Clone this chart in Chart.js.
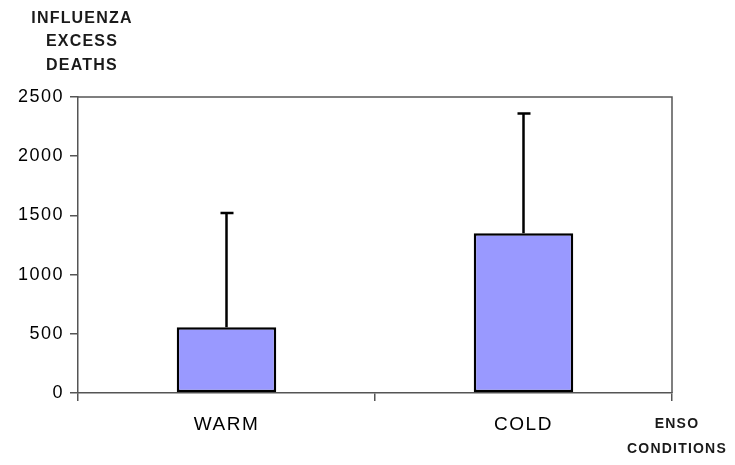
<!DOCTYPE html>
<html><head><meta charset="utf-8">
<script src="https://cdn.jsdelivr.net/npm/chart.js@4"></script>
<style>html,body{margin:0;padding:0;background:#fff}</style>
</head><body>
<canvas id="c" width="735" height="465"></canvas>
<script>
const categories = ["WARM", "COLD"];
const deaths = [555, 1350];
const errorTop = [1520, 2360];
const yTicks = [0, 500, 1000, 1500, 2000, 2500];
const yTitle = ["INFLUENZA", "EXCESS", "DEATHS"];
const xTitle = ["ENSO", "CONDITIONS"];

const FONT = '"Liberation Sans", Arial, sans-serif';

const extras = {
  id: 'extras',
  beforeDraw(chart) {
    chart.ctx.letterSpacing = '1.5px';
  },
  afterDatasetsDraw(chart) {
    const ctx = chart.ctx, a = chart.chartArea;
    const y = chart.scales.y;
    ctx.save();
    ctx.strokeStyle = '#555';
    ctx.lineWidth = 1.5;
    ctx.beginPath();
    ctx.moveTo(a.left, a.top); ctx.lineTo(a.right, a.top); ctx.lineTo(a.right, a.bottom);
    ctx.stroke();
    ctx.strokeStyle = '#000';
    ctx.lineWidth = 2.5;
    const meta = chart.getDatasetMeta(0);
    meta.data.forEach((bar, i) => {
      const px = bar.x;
      const y0 = y.getPixelForValue(deaths[i]);
      const y1 = y.getPixelForValue(errorTop[i]);
      ctx.beginPath();
      ctx.moveTo(px, y0); ctx.lineTo(px, y1);
      ctx.moveTo(px - 6, y1); ctx.lineTo(px + 7, y1);
      ctx.stroke();
    });
    ctx.restore();
  },
  afterDraw(chart) {
    const ctx = chart.ctx;
    ctx.save();
    ctx.fillStyle = '#1a1a1a';
    ctx.textAlign = 'center';
    ctx.textBaseline = 'middle';
    ctx.letterSpacing = '1.2px';
    ctx.font = 'bold 16px ' + FONT;
    const ty = [19, 42, 66];
    yTitle.forEach((t, i) => ctx.fillText(t, 82, ty[i]));
    ctx.font = 'bold 14px ' + FONT;
    const ey = [424, 449];
    xTitle.forEach((t, i) => ctx.fillText(t, 677, ey[i]));
    ctx.restore();
  }
};

new Chart(document.getElementById('c'), {
  type: 'bar',
  data: {
    labels: categories,
    datasets: [{
      data: deaths,
      backgroundColor: '#9999ff',
      borderColor: '#000',
      borderWidth: 2.5,
      borderSkipped: false,
      categoryPercentage: 1,
      barPercentage: 0.335
    }]
  },
  options: {
    responsive: false,
    animation: false,
    devicePixelRatio: 1,
    layout: { padding: { left: 0, top: 97, right: 63, bottom: 0 } },
    plugins: { legend: { display: false }, tooltip: { enabled: false } },
    scales: {
      x: {
        offset: true,
        grid: { offset: true, drawOnChartArea: false, drawTicks: true, tickLength: 8, color: '#555', lineWidth: 1.5 },
        border: { color: '#555', width: 1.5 },
        ticks: { color: '#000', font: { size: 19, family: FONT }, padding: 12 },
        afterFit(s) { s.height = 72; }
      },
      y: {
        min: 0, max: 2500,
        afterBuildTicks(s) { s.ticks = yTicks.map(v => ({ value: v })); },
        grid: { drawOnChartArea: false, drawTicks: true, tickLength: 8, color: '#555', lineWidth: 1.5 },
        border: { color: '#555', width: 1.5 },
        ticks: { color: '#000', font: { size: 18, family: FONT }, padding: 6, callback: v => String(v) },
        afterFit(s) { s.width = 78; }
      }
    }
  },
  plugins: [extras]
});
</script>
</body></html>
